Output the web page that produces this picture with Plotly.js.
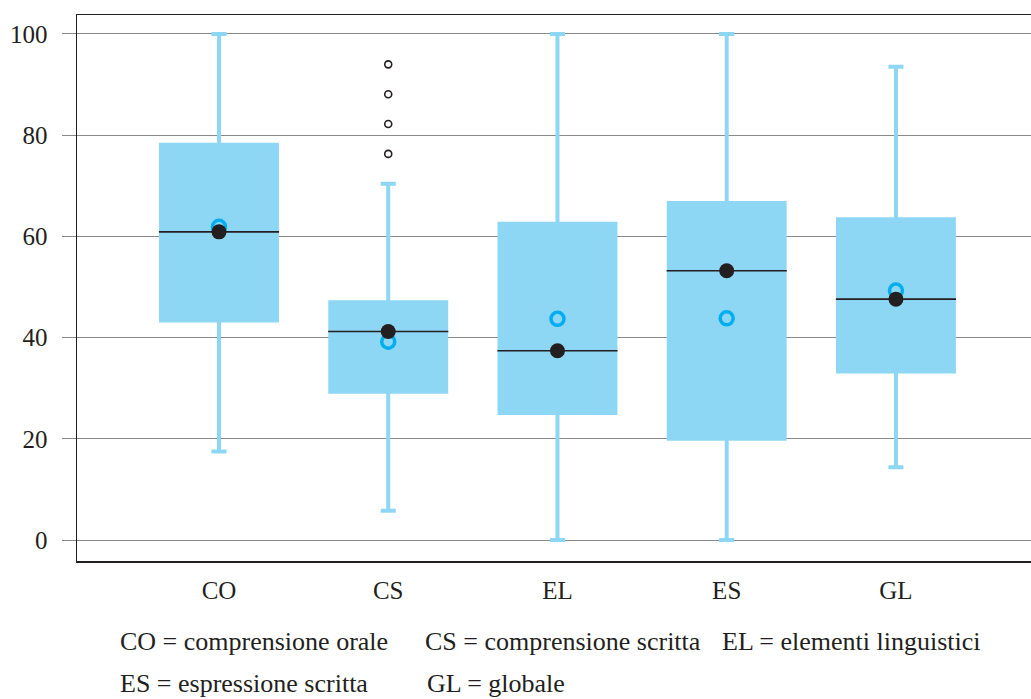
<!DOCTYPE html>
<html>
<head>
<meta charset="utf-8">
<script src="https://cdn.plot.ly/plotly-3.0.1.min.js"></script>
<style>html,body{margin:0;padding:0;background:#fff;}#chart{width:1031px;height:699px;}</style>
</head>
<body>
<div id="chart"></div>
<script>
var categories = ['CO', 'CS', 'EL', 'ES', 'GL'];
var lowerWhisker = [17.5, 5.8, 0, 0, 14.4];
var q1Values = [43.4, 29.3, 25.1, 20.0, 33.3];
var medianValues = [60.9, 41.2, 37.4, 53.2, 47.6];
var q3Values = [78.1, 47.0, 62.5, 66.6, 63.4];
var upperWhisker = [100, 70.4, 100, 100, 93.5];
var meanValues = [61.9, 39.2, 43.7, 43.8, 49.3];
var outlierCategory = ['CS', 'CS', 'CS', 'CS'];
var outlierValues = [76.3, 82.2, 88.1, 94.0];
var yTicks = [0, 20, 40, 60, 80, 100];
var legendLine1 = ['CO = comprensione orale', 'CS = comprensione scritta', 'EL = elementi linguistici'];
var legendLine2 = ['ES = espressione scritta', 'GL = globale'];

var pos = categories.map(function (c, i) { return i; });
function posOf(c) { return categories.indexOf(c); }
var boxW = 0.685;
var lightBlue = '#8dd7f5';
var dark = '#231f20';
var fontFam = 'Liberation Serif, Times New Roman, serif';

var medX = [], medY = [];
pos.forEach(function (p, i) {
  medX.push(p - 0.355, p + 0.355, null);
  medY.push(medianValues[i], medianValues[i], null);
});

var traces = [
  {
    type: 'box', x: pos, q1: q1Values, median: medianValues, q3: q3Values,
    lowerfence: lowerWhisker, upperfence: upperWhisker,
    width: boxW, whiskerwidth: 0.13,
    fillcolor: lightBlue, line: {color: lightBlue, width: 4},
    boxpoints: false, hoverinfo: 'skip', showlegend: false
  },
  {
    type: 'scatter', mode: 'lines', x: medX, y: medY,
    line: {color: dark, width: 1.6}, hoverinfo: 'skip', showlegend: false
  },
  {
    type: 'scatter', mode: 'markers', x: outlierCategory.map(posOf), y: outlierValues,
    marker: {symbol: 'circle-open', size: 7, color: dark, line: {width: 1.6, color: dark}},
    hoverinfo: 'skip', showlegend: false
  },
  {
    type: 'scatter', mode: 'markers', x: pos, y: meanValues,
    marker: {symbol: 'circle-open', size: 13, color: '#00aeef', line: {width: 3.5, color: '#00aeef'}},
    hoverinfo: 'skip', showlegend: false
  },
  {
    type: 'scatter', mode: 'markers', x: pos, y: medianValues,
    marker: {symbol: 'circle', size: 15, color: dark, line: {width: 0}},
    hoverinfo: 'skip', showlegend: false
  }
];

var L = 77, R = 0, T = 15, B = 138;
var W = 1031 - L - R, H = 699 - T - B;
function px2paperX(px) { return (px - L) / W; }
function px2paperY(py) { return (699 - B - py) / H; }

var annotations = [];
var line1X = [118, 423, 720];
legendLine1.forEach(function (t, i) {
  annotations.push({text: t, xref: 'paper', yref: 'paper', x: px2paperX(line1X[i]), y: px2paperY(641),
    xanchor: 'left', yanchor: 'middle', showarrow: false, font: {family: fontFam, size: 26, color: dark}});
});
var line2X = [118, 425];
legendLine2.forEach(function (t, i) {
  annotations.push({text: t, xref: 'paper', yref: 'paper', x: px2paperX(line2X[i]), y: px2paperY(683),
    xanchor: 'left', yanchor: 'middle', showarrow: false, font: {family: fontFam, size: 26, color: dark}});
});

var layout = {
  width: 1031, height: 699,
  margin: {l: L, r: R, t: T, b: B},
  paper_bgcolor: '#fff', plot_bgcolor: '#fff',
  font: {family: fontFam, color: dark, size: 25},
  showlegend: false,
  xaxis: {
    range: [-0.839, 4.798], tickvals: pos, ticktext: categories,
    showgrid: false, zeroline: false, showline: true, mirror: true,
    linecolor: dark, linewidth: 1.5, ticks: 'outside', ticklen: 6, tickcolor: 'rgba(0,0,0,0)',
    tickfont: {family: fontFam, size: 25, color: dark}
  },
  yaxis: {
    range: [-4.15, 103.75], tickvals: yTicks, ticktext: yTicks.map(String),
    showgrid: true, gridcolor: '#8a8a8a', gridwidth: 1, zeroline: false,
    showline: true, linecolor: dark, linewidth: 1.5,
    ticks: 'outside', ticklen: 14, tickcolor: '#8a8a8a', tickwidth: 1,
    ticklabelstandoff: 9,
    tickfont: {family: fontFam, size: 25, color: dark}
  },
  annotations: annotations
};

Plotly.newPlot('chart', traces, layout, {staticPlot: true, displayModeBar: false});
</script>
</body>
</html>
